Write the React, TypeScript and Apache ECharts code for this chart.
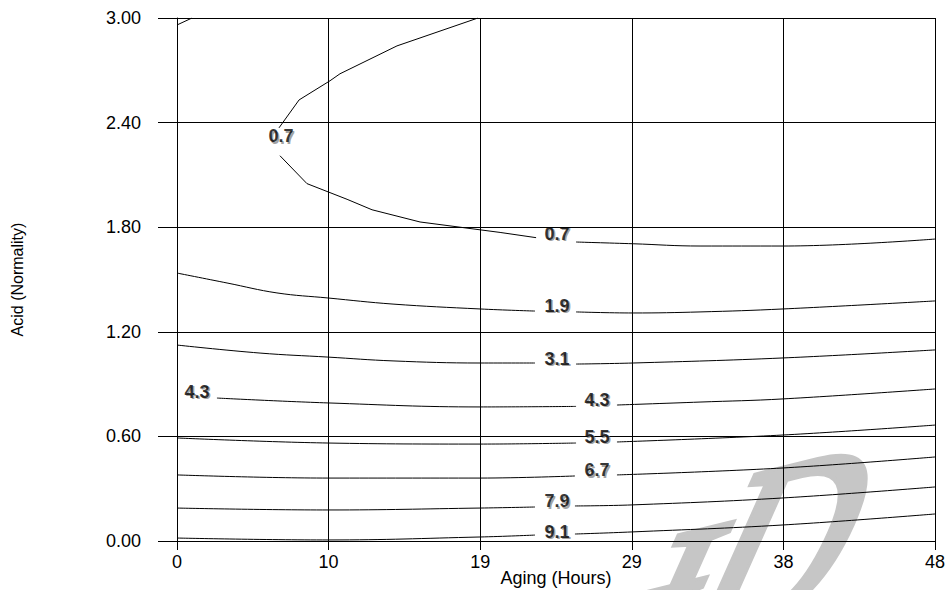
import React, { useEffect, useRef } from 'react';
import * as echarts from 'echarts';

// Axis ranges and tick spacing
const xMin = 0;
const xMax = 48;
const xStep = 9.6;
const yMin = 0;
const yMax = 3;
const yStep = 0.6;

// Contour polylines [aging hours, acid normality]; each level is split where its label sits
const c07Corner = [[0, 2.96], [0.95, 3.0]];
const c07Upper = [[6.46, 2.37], [7.73, 2.53], [9.69, 2.64], [10.32, 2.68], [13.93, 2.84], [19.06, 3.0]];
const c07LowerLeft = [[6.52, 2.21], [8.23, 2.05], [10.77, 1.96], [12.35, 1.9], [15.39, 1.83], [20.46, 1.77], [22.74, 1.74]];
const c07LowerRight = [[25.27, 1.715], [28.88, 1.705], [33.12, 1.692], [38.38, 1.692], [48, 1.732]];
const c19Left = [[0, 1.537], [3.17, 1.48], [6.33, 1.423], [9.56, 1.394], [13.68, 1.359], [19.19, 1.331], [22.67, 1.319]];
const c19Right = [[25.27, 1.314], [28.88, 1.308], [33.12, 1.314], [38.38, 1.331], [48, 1.377]];
const c31Left = [[0, 1.124], [5.26, 1.078], [9.56, 1.055], [13.68, 1.033], [19.19, 1.021], [22.67, 1.021]];
const c31Right = [[25.27, 1.015], [28.88, 1.021], [38.38, 1.05], [48, 1.096]];
const c43Left = [[2.53, 0.82], [9.56, 0.792], [19.19, 0.769], [25.27, 0.772]];
const c43Right = [[27.86, 0.78], [33.12, 0.797], [38.38, 0.815], [48, 0.872]];
const c55Left = [[0, 0.591], [9.56, 0.562], [19.19, 0.556], [25.27, 0.562]];
const c55Right = [[27.86, 0.568], [38.38, 0.608], [48, 0.665]];
const c67Left = [[0, 0.379], [9.56, 0.361], [19.19, 0.361], [25.2, 0.373]];
const c67Right = [[27.86, 0.379], [38.38, 0.419], [48, 0.482]];
const c79Left = [[0, 0.189], [9.56, 0.178], [19.19, 0.189], [22.67, 0.195]];
const c79Right = [[25.2, 0.201], [28.81, 0.207], [38.38, 0.247], [48, 0.31]];
const c91Left = [[0, 0.017], [9.56, 0.006], [19.19, 0.023], [22.67, 0.034]];
const c91Right = [[25.2, 0.04], [28.81, 0.052], [38.38, 0.092], [48, 0.155]];

const angularSegments = [c07Corner, c07Upper, c07LowerLeft];
const smoothSegments = [
  c07LowerRight, c19Left, c19Right, c31Left, c31Right, c43Left, c43Right,
  c55Left, c55Right, c67Left, c67Right, c79Left, c79Right, c91Left, c91Right,
];

// Level labels: [text, hours, normality]
const levelLabels: [string, number, number][] = [
  ['0.7', 6.59, 2.323],
  ['0.7', 24.06, 1.761],
  ['1.9', 24.06, 1.348],
  ['3.1', 24.06, 1.044],
  ['4.3', 1.27, 0.855],
  ['4.3', 26.6, 0.809],
  ['5.5', 26.6, 0.597],
  ['6.7', 26.6, 0.407],
  ['7.9', 24.06, 0.229],
  ['9.1', 24.06, 0.052],
];

const xTitle = 'Aging (Hours)';
const yTitle = 'Acid (Normality)';

const FONT = 'Arial, "Liberation Sans", sans-serif';

// Grey stamp letters in the lower right: [glyph, x, y]
const stampGlyphs: [string, number, number][] = [
  ['L', 663, 548],
  ['I', 692, 492],
  ['D', 770, 431],
];

// Sheared frame (group rotation + scale around a rotated child) mapping glyph x to a
// squeezed baseline rising by `rise`, and glyph down to a stem slanted by `slant`.
function shearFrame(rise: number, slant: number, squeeze: number) {
  const a = squeeze * Math.cos(rise);
  const b = -squeeze * Math.sin(rise);
  const c = -Math.sin(slant);
  const d = Math.cos(slant);
  const p = a * a + b * b;
  const q = a * c + b * d;
  const r = c * c + d * d;
  const disc = Math.sqrt(((p - r) / 2) ** 2 + q * q);
  const s1 = Math.sqrt((p + r) / 2 + disc);
  const s2 = Math.sqrt((p + r) / 2 - disc);
  let v1x = q;
  let v1y = (p + r) / 2 + disc - p;
  const n = Math.hypot(v1x, v1y) || 1;
  v1x /= n;
  v1y /= n;
  const childRot = Math.atan2(v1y, v1x);
  const u1x = (a * v1x + c * v1y) / s1;
  const u1y = (b * v1x + d * v1y) / s1;
  const parentRot = Math.atan2(-u1y, u1x);
  return { parentRot, childRot, sx: s1, sy: s2 };
}

export default function App() {
  const ref = useRef<HTMLDivElement>(null);

  useEffect(() => {
    if (!ref.current) return;
    const chart = echarts.init(ref.current, null, { renderer: 'svg' });

    const lineStyle = { color: '#000', width: 1 };
    const lineSeries = [
      ...angularSegments.map((d) => ({
        type: 'line', data: d, symbol: 'none', smooth: false, lineStyle, z: 3, silent: true,
      })),
      ...smoothSegments.map((d) => ({
        type: 'line', data: d, symbol: 'none', smooth: 0.4, lineStyle, z: 3, silent: true,
      })),
    ];

    const labelData = levelLabels.map(([t, x, y]) => ({ value: [x, y], name: t }));
    const labelSeries = (color: string, offset: number[], z: number) => ({
      type: 'scatter',
      data: labelData,
      symbolSize: 0,
      silent: true,
      z,
      label: {
        show: true,
        position: 'inside',
        formatter: (p: any) => p.name,
        color,
        offset,
        fontFamily: FONT,
        fontWeight: 900,
        fontSize: 18,
      },
    });

    const f = shearFrame((14 * Math.PI) / 180, (24 * Math.PI) / 180, 0.75);
    const stamp = stampGlyphs.map(([g, x, y]) => ({
      type: 'group',
      x,
      y,
      rotation: f.parentRot,
      scaleX: f.sx,
      scaleY: f.sy,
      z: -10,
      silent: true,
      children: [
        {
          type: 'text',
          rotation: f.childRot,
          z: -10,
          silent: true,
          style: {
            text: g,
            font: '280px "Liberation Serif", "Times New Roman", serif',
            fill: '#c6c6c6',
            stroke: '#c6c6c6',
            lineWidth: 9,
            align: 'left',
            verticalAlign: 'top',
          },
        },
      ],
    }));

    chart.setOption({
      animation: false,
      backgroundColor: '#fff',
      grid: { left: 177, right: 12, top: 18, bottom: 49, outerBoundsMode: 'none' },
      xAxis: {
        type: 'value',
        min: xMin,
        max: xMax,
        interval: xStep,
        name: xTitle,
        nameLocation: 'middle',
        nameGap: 28,
        nameMoveOverlap: false,
        nameTextStyle: { color: '#000', fontFamily: FONT, fontSize: 18 },
        axisLine: { show: true, lineStyle: { color: '#000', width: 1 } },
        axisTick: { show: true, length: 9, lineStyle: { color: '#000' } },
        axisLabel: {
          color: '#000', fontFamily: FONT, fontSize: 18, margin: 12,
          formatter: (v: number) => String(Math.round(v)),
        },
        splitLine: { show: true, lineStyle: { color: '#000', width: 1 } },
      },
      yAxis: {
        type: 'value',
        min: yMin,
        max: yMax,
        interval: yStep,
        name: yTitle,
        nameLocation: 'middle',
        nameRotate: 90,
        nameGap: 152,
        nameMoveOverlap: false,
        nameTextStyle: { color: '#000', fontFamily: FONT, fontSize: 16 },
        axisLine: { show: true, lineStyle: { color: '#000', width: 1 } },
        axisTick: { show: true, length: 19, lineStyle: { color: '#000' } },
        axisLabel: {
          color: '#000', fontFamily: FONT, fontSize: 18, margin: 36,
          formatter: (v: number) => v.toFixed(2),
        },
        splitLine: { show: true, lineStyle: { color: '#000', width: 1 } },
      },
      graphic: stamp,
      series: [
        ...lineSeries,
        labelSeries('#8a8a8a', [1.5, 1.5], 4),
        labelSeries('#000', [0, 0], 5),
      ],
    });

    return () => chart.dispose();
  }, []);

  return <div ref={ref} style={{ position: 'fixed', left: 0, top: 0, width: 947, height: 590 }} />;
}
